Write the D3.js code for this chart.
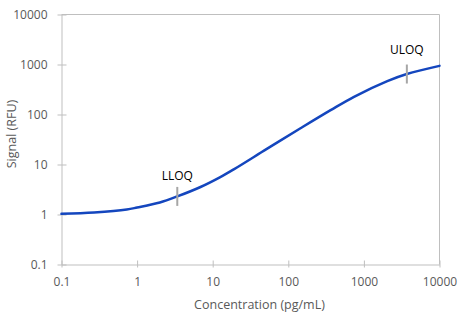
<!DOCTYPE html>
<html>
<head>
<meta charset="utf-8">
<script src="https://cdn.jsdelivr.net/npm/d3@7"></script>
<style>
    body { margin: 0; background: #fff; }
    svg { display: block; font-family: "Open Sans", sans-serif; }
</style>
</head>
<body>
<div id="chart"></div>
<script>
// standard curve, concentration (pg/mL) vs signal (RFU)
var concentration = [0.1, 0.27, 0.73, 1, 2, 3.4, 6.9, 12.6, 19, 52, 145, 363, 740, 2040, 3700, 10000];
var signal = [1.03, 1.1, 1.26, 1.38, 1.74, 2.3, 3.55, 5.6, 8.0, 20.5, 53, 122, 226, 465, 645, 940];

var xTicks = [0.1, 1, 10, 100, 1000, 10000];
var yTicks = [0.1, 1, 10, 100, 1000, 10000];

// quantitation limits marked on the curve
var limitNames = ["LLOQ", "ULOQ"];
var limitConc = [3.4, 3700];
var limitSignal = [2.3, 645];

var width = 467,
    height = 325,
    plot = {left: 61.5, right: 439.5, top: 14.5, bottom: 264.5};

var gridColor = "#bfbfbf",
    textColor = "#595959";

var svg = d3.select("#chart").append("svg")
    .attr("width", width)
    .attr("height", height);

var x = d3.scaleLog()
    .domain([0.1, 10000])
    .range([plot.left, plot.right]);

var y = d3.scaleLog()
    .domain([0.1, 10000])
    .range([plot.bottom, plot.top]);

// top and right border of the plot area
svg.append("path")
    .attr("d", "M" + plot.left + "," + plot.top + "H" + plot.right + "V" + plot.bottom)
    .attr("fill", "none")
    .attr("stroke", gridColor)
    .attr("stroke-width", 1);

var xAxis = svg.append("g")
    .attr("transform", "translate(0," + plot.bottom + ")")
    .call(d3.axisBottom(x).tickValues(xTicks).tickFormat(function(d) { return String(d); }).tickSize(0).tickPadding(13));

var yAxis = svg.append("g")
    .attr("transform", "translate(" + plot.left + ",0)")
    .call(d3.axisLeft(y).tickValues(yTicks).tickFormat(function(d) { return String(d); }).tickSize(0).tickPadding(14));

// ticks that cross the axis line
xAxis.selectAll(".tick line").attr("y1", -4).attr("y2", 3);
yAxis.selectAll(".tick line").attr("x1", -4).attr("x2", 5);

svg.selectAll(".domain, .tick line")
    .attr("stroke", gridColor)
    .attr("stroke-width", 1);

svg.selectAll(".tick text")
    .attr("fill", textColor)
    .attr("font-size", 12)
    .attr("font-family", "'Open Sans', sans-serif");

xAxis.selectAll(".tick text").attr("dy", "0.71em");

// curve
var points = concentration.map(function(c, i) { return [c, signal[i]]; });

var line = d3.line()
    .x(function(d) { return x(d[0]); })
    .y(function(d) { return y(d[1]); })
    .curve(d3.curveCatmullRom.alpha(0.5));

svg.append("path")
    .datum(points)
    .attr("d", line)
    .attr("fill", "none")
    .attr("stroke", "#1446be")
    .attr("stroke-width", 2.5)
    .attr("stroke-linecap", "round");

// limit markers
var limits = limitNames.map(function(name, i) {
    return {name: name, conc: limitConc[i], signal: limitSignal[i]};
});

var mark = svg.selectAll(".limit")
    .data(limits)
    .enter().append("g")
    .attr("class", "limit")
    .attr("transform", function(d) { return "translate(" + x(d.conc) + "," + y(d.signal) + ")"; });

mark.append("line")
    .attr("y1", -9.5)
    .attr("y2", 9.5)
    .attr("stroke", "#a6a6a6")
    .attr("stroke-width", 2);

mark.append("text")
    .attr("y", function(d, i) { return i === 0 ? -21 : -24; })
    .attr("dy", "0.35em")
    .attr("text-anchor", "middle")
    .attr("font-size", 12)
    .attr("fill", "#000")
    .text(function(d) { return d.name; });

// axis titles
svg.append("text")
    .attr("x", 259.5)
    .attr("y", 305)
    .attr("dy", "0.35em")
    .attr("text-anchor", "middle")
    .attr("font-size", 12.5)
    .attr("fill", textColor)
    .text("Concentration (pg/mL)");

svg.append("text")
    .attr("transform", "translate(12,134) rotate(-90)")
    .attr("dy", "0.35em")
    .attr("text-anchor", "middle")
    .attr("font-size", 12.5)
    .attr("fill", textColor)
    .text("Signal (RFU)");
</script>
</body>
</html>
